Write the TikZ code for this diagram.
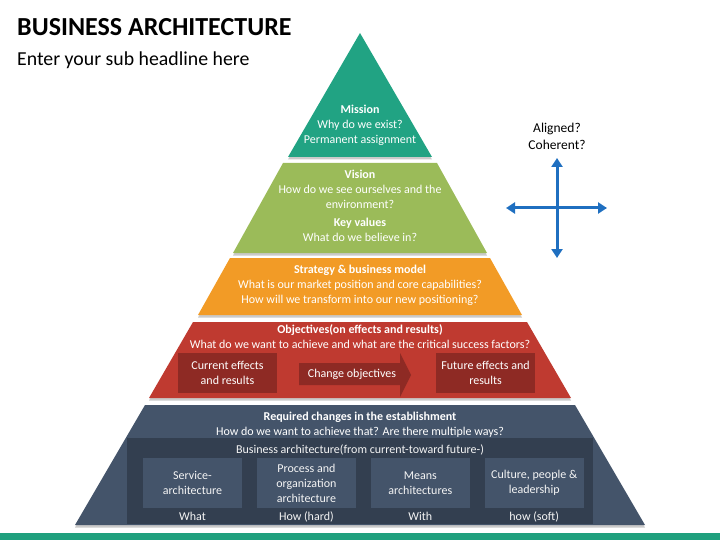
\documentclass[tikz,border=0pt]{standalone}
\usepackage{fontspec}
\setmainfont{Carlito}
\usetikzlibrary{arrows.meta, positioning, shadows}

\definecolor{missionteal}{HTML}{21A383}
\definecolor{visiongreen}{HTML}{9BBB59}
\definecolor{strategyorange}{HTML}{F29B26}
\definecolor{objectivered}{HTML}{BF3A30}
\definecolor{objectivedark}{HTML}{8E2A24}
\definecolor{changeslate}{HTML}{44546A}
\definecolor{archslate}{HTML}{333F50}
\definecolor{crossblue}{HTML}{1F6FC0}
\definecolor{footerteal}{HTML}{1FA07E}

\begin{document}
\begin{tikzpicture}[
    x=1pt, y=-1pt,
    layer/.style = {drop shadow={shadow xshift=0pt, shadow yshift=-2.5pt, opacity=0.35, fill=black!60}},
    lbl/.style = {text=white, align=center, inner sep=0pt, font=\fontsize{12}{15}\selectfont},
    objbox/.style = {lbl, fill=objectivedark, minimum width=99pt, minimum height=40pt},
    archbox/.style = {lbl, fill=changeslate, text=white!92!gray, minimum width=99pt, minimum height=50pt},
    under/.style = {lbl, text=white!92!gray},
    cross/.style = {crossblue, line width=3pt, {Triangle[width=11pt, length=9pt]}-{Triangle[width=11pt, length=9pt]}},
    node distance=14.5pt
  ]

  \useasboundingbox (0,0) rectangle (720,540);

  % Headline
  \node[anchor=base west, inner sep=0pt, font=\fontsize{26}{30}\selectfont\bfseries] (title) at (17,36) {BUSINESS ARCHITECTURE};
  \node[anchor=base west, inner sep=0pt, font=\fontsize{19.8}{24}\selectfont] (subtitle) at (17,66) {Enter your sub headline here};

  % Pyramid layers
  \fill[layer, missionteal] (360,33) -- (432,157) -- (288,157) -- cycle;
  \fill[layer, visiongreen] (283,163) -- (437,163) -- (487,253) -- (233,253) -- cycle;
  \fill[layer, strategyorange] (230,258) -- (490,258) -- (522,315) -- (198,315) -- cycle;
  \fill[layer, objectivered] (193,322) -- (527,322) -- (571,398) -- (149,398) -- cycle;
  \fill[layer, changeslate] (145,405) -- (575,405) -- (645,525) -- (75,525) -- cycle;

  % Mission and vision
  \node[lbl] (mission) at (360,125) {\textbf{Mission}\\Why do we exist?\\Permanent assignment};
  \node[lbl] (vision) at (360,189) {\textbf{Vision}\\How do we see ourselves and the\\environment?};
  \node[lbl] (keyvalues) at (360,229.5) {\textbf{Key values}\\What do we believe in?};

  % Strategy
  \node[lbl] (strategy) at (360,285.5) {\textbf{Strategy \& business model}\\What is our market position and core capabilities?\\How will we transform into our new positioning?};

  % Objectives with current and future effects
  \node[lbl] (objectives) at (360,337) {\textbf{Objectives(on effects and results)}\\What do we want to achieve and what are the critical success factors?};
  \node[objbox] (current) at (227.5,373) {Current effects\\and results};
  \node[objbox] (future) at (485.5,373) {Future effects and\\results};
  \fill[objectivedark] (299,363) -- (400,363) -- (400,353) -- (411,375) -- (400,397) -- (400,385) -- (299,385) -- cycle;
  \node[lbl] (change) at (352,374) {Change objectives};

  % Required changes and business architecture
  \node[lbl] (required) at (360,425) {\textbf{Required changes in the establishment}\\How do we want to achieve that? Are there multiple ways?};
  \node[fill=archslate, minimum width=466pt, minimum height=86pt, inner sep=0pt] (archframe) at (360,481) {};
  \node[lbl, text=white!92!gray] (archtitle) at (360,450) {Business architecture(from current-toward future-)};

  \node[archbox] (service) at (192.5,483) {Service-\\architecture};
  \node[archbox, right=of service] (process) {Process and\\organization\\architecture};
  \node[archbox, right=of process] (means) {Means\\architectures};
  \node[archbox, right=of means] (culture) {Culture, people \&\\leadership};

  \node[under, below=3.5pt of service] (what) {What};
  \node[under, below=3.5pt of process] (howhard) {How (hard)};
  \node[under, below=3.5pt of means] (with) {With};
  \node[under, below=3.5pt of culture] (howsoft) {how (soft)};

  % Alignment cross
  \node[align=center, inner sep=0pt, font=\fontsize{13.5}{17}\selectfont] (aligned) at (557,136) {Aligned?\\Coherent?};
  \coordinate (crossup) at (557,158);
  \coordinate (crossdown) at (557,258);
  \coordinate (crossleft) at (506,208);
  \coordinate (crossright) at (607,208);
  \draw[cross] (crossleft) -- (crossright);
  \draw[cross] (crossup) -- (crossdown);

  % Footer bar
  \fill[footerteal] (0,533) rectangle (720,540);

\end{tikzpicture}
\end{document}
